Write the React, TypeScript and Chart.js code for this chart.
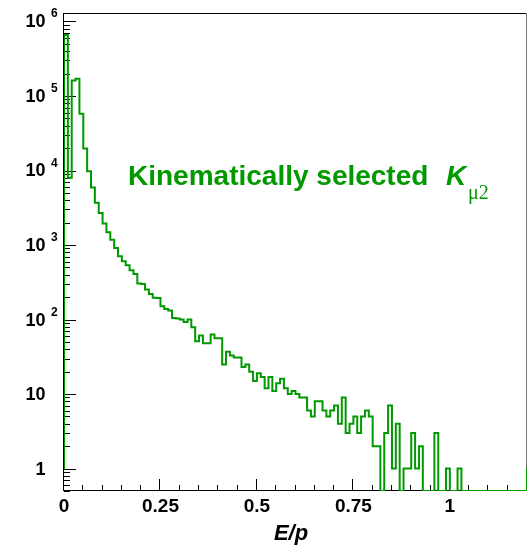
import React, { useEffect, useRef } from 'react';
import { Chart, registerables } from 'chart.js';

Chart.register(...registerables);

// ---- data ----
const X_MIN = 0;
const X_MAX = 1.2;
const BIN_WIDTH = 0.01;
const Y_MIN = 0.5;
const Y_MAX = 1.3e6;

// counts per bin of width 0.01, starting at E/p = 0
const COUNTS_0_19 = [660000, 8000, 162000, 170000, 58000, 19800, 9800, 5900, 3700, 2700, 1940, 1490, 1180, 910, 705, 606, 536, 459, 410, 304];
const COUNTS_20_39 = [300, 253, 221, 196, 194, 151, 139, 132, 105, 103, 100, 93, 100, 79, 51, 61, 48, 48, 63, 56];
const COUNTS_40_59 = [56, 25, 37, 33, 31, 31, 23, 25, 20, 15, 19, 17, 12, 17, 11, 14, 16, 12, 10, 11];
const COUNTS_60_79 = [10, 9, 9, 6, 5, 8, 8, 6, 5, 6, 7, 4, 9, 3, 4, 5, 3, 5, 6, 5];
const COUNTS_80_99 = [2, 2, 0, 3, 7, 1, 4, 0, 1, 1, 3, 1, 2, 0, 0, 0, 3, 0, 0, 1];
const COUNTS_100_119 = [0, 0, 1, 0, 0, 0, 0, 0, 0, 0, 0, 0, 0, 0, 0, 0, 0, 0, 0, 0];
const UNDERFLOW = 1;
const OVERFLOW = 1;

const X_TICK_VALUES = [0, 0.25, 0.5, 0.75, 1];
const X_TICK_LABELS = ['0', '0.25', '0.5', '0.75', '1'];
const X_MINOR_STEP = 0.05;
const Y_DECADES = [0, 1, 2, 3, 4, 5, 6];
const Y_MINOR_MULTIPLIERS = [2, 3, 4, 5, 6, 7, 8, 9];

const ANNOTATION = 'Kinematically selected';
const ANNOTATION_PARTICLE = 'K';
const ANNOTATION_SUB = 'μ2';
const X_TITLE = 'E/p';
const GREEN = 'rgb(0,153,0)';

const COUNTS = [
  ...COUNTS_0_19,
  ...COUNTS_20_39,
  ...COUNTS_40_59,
  ...COUNTS_60_79,
  ...COUNTS_80_99,
  ...COUNTS_100_119,
];

const SANS = '"Liberation Sans", Arial, Helvetica, sans-serif';
const SERIF = '"Liberation Serif", "Times New Roman", serif';

const rootStyle = {
  id: 'rootStyle',
  beforeDatasetsDraw(chart: any) {
    const { ctx, chartArea: a, scales } = chart;
    const xs = scales.x;
    const ys = scales.y;
    ctx.save();
    ctx.strokeStyle = '#000';
    ctx.lineWidth = 1;
    // frame
    ctx.beginPath();
    ctx.moveTo(Math.round(a.left) - 0.5, Math.round(a.top) + 0.5);
    ctx.lineTo(Math.round(a.right) - 0.5, Math.round(a.top) + 0.5);
    ctx.moveTo(Math.round(a.left) - 0.5, Math.round(a.top));
    ctx.lineTo(Math.round(a.left) - 0.5, Math.round(a.bottom));
    ctx.moveTo(Math.round(a.left) - 1, Math.round(a.bottom) - 0.5);
    ctx.lineTo(Math.round(a.right), Math.round(a.bottom) - 0.5);
    ctx.stroke();
    ctx.strokeStyle = '#777';
    ctx.beginPath();
    ctx.moveTo(Math.round(a.right) - 0.5, Math.round(a.top));
    ctx.lineTo(Math.round(a.right) - 0.5, Math.round(a.bottom));
    ctx.stroke();

    ctx.strokeStyle = '#000';
    // x ticks
    ctx.beginPath();
    const nMinor = Math.round((X_MAX - X_MIN) / X_MINOR_STEP);
    for (let i = 0; i <= nMinor; i++) {
      const v = X_MIN + i * X_MINOR_STEP;
      const isMajor = X_TICK_VALUES.some((t) => Math.abs(t - v) < 1e-6);
      const px = Math.round(xs.getPixelForValue(v)) - 0.5;
      if (px > a.right - 1) continue;
      const len = isMajor ? 12 : 6;
      ctx.moveTo(px, a.bottom);
      ctx.lineTo(px, a.bottom - len);
    }
    // y ticks
    for (let d = -1; d <= 6; d++) {
      const base = Math.pow(10, d);
      const major = ys.getPixelForValue(base);
      if (base >= Y_MIN && base <= Y_MAX) {
        const py = Math.round(major) + 0.5;
        ctx.moveTo(a.left, py);
        ctx.lineTo(a.left + 12, py);
      }
      for (const m of Y_MINOR_MULTIPLIERS) {
        const v = m * base;
        if (v < Y_MIN || v > Y_MAX) continue;
        const py = Math.round(ys.getPixelForValue(v)) + 0.5;
        ctx.moveTo(a.left, py);
        ctx.lineTo(a.left + 6, py);
      }
    }
    ctx.stroke();
    ctx.restore();
  },
  afterDraw(chart: any) {
    const { ctx, chartArea: a, scales } = chart;
    const ys = scales.y;
    ctx.save();
    ctx.fillStyle = '#000';
    // y labels
    for (const k of Y_DECADES) {
      const py = ys.getPixelForValue(Math.pow(10, k));
      ctx.font = `bold 18px ${SANS}`;
      ctx.textAlign = 'right';
      ctx.textBaseline = 'middle';
      ctx.fillText(k === 0 ? '1' : '10', 45.5, py + 1);
      if (k >= 2) {
        ctx.font = `bold 12px ${SANS}`;
        ctx.textAlign = 'left';
        ctx.textBaseline = 'alphabetic';
        ctx.fillText(String(k), 51, py - 4);
      }
    }
    // x title
    ctx.font = `italic bold 22px ${SANS}`;
    ctx.textAlign = 'center';
    ctx.textBaseline = 'alphabetic';
    ctx.fillText(X_TITLE, 291, 540);

    // annotation
    ctx.fillStyle = GREEN;
    ctx.textAlign = 'left';
    ctx.font = `bold 28px ${SANS}`;
    ctx.fillText(ANNOTATION, 128, 185);
    ctx.font = `italic bold 28px ${SANS}`;
    ctx.fillText(ANNOTATION_PARTICLE, 446, 185);
    ctx.font = `20px ${SERIF}`;
    ctx.fillText(ANNOTATION_SUB, 468, 199);
    ctx.restore();
  },
};

export default function App() {
  const canvasRef = useRef<HTMLCanvasElement | null>(null);

  useEffect(() => {
    if (!canvasRef.current) return;
    const points: { x: number; y: number }[] = [];
    points.push({ x: X_MIN - BIN_WIDTH, y: Math.max(UNDERFLOW, Y_MIN) });
    COUNTS.forEach((c, i) => {
      points.push({ x: X_MIN + i * BIN_WIDTH, y: Math.max(c, Y_MIN) });
    });
    points.push({ x: X_MAX, y: Math.max(OVERFLOW, Y_MIN) });
    points.push({ x: X_MAX + BIN_WIDTH, y: Math.max(OVERFLOW, Y_MIN) });

    const chart = new Chart(canvasRef.current, {
      type: 'line',
      data: {
        datasets: [
          {
            data: points,
            stepped: true,
            borderColor: GREEN,
            borderWidth: 2,
            pointRadius: 0,
            fill: false,
          },
        ],
      },
      options: {
        animation: false,
        responsive: false,
        devicePixelRatio: 1,
        layout: { padding: { top: 13, right: 5, left: 0, bottom: 0 } },
        plugins: { legend: { display: false }, tooltip: { enabled: false } },
        scales: {
          x: {
            type: 'linear',
            min: X_MIN,
            max: X_MAX,
            grid: { display: false, drawTicks: false },
            border: { display: false },
            afterBuildTicks: (s: any) => {
              s.ticks = X_TICK_VALUES.map((v) => ({ value: v }));
            },
            afterFit: (s: any) => {
              s.height = 57;
            },
            ticks: {
              autoSkip: false,
              maxRotation: 0,
              padding: 4,
              color: '#000',
              font: { family: SANS, weight: 'bold', size: 19 },
              callback: (_v: any, i: number) => X_TICK_LABELS[i],
            },
          },
          y: {
            type: 'logarithmic',
            min: Y_MIN,
            max: Y_MAX,
            grid: { display: false, drawTicks: false },
            border: { display: false },
            ticks: { display: false },
            afterFit: (s: any) => {
              s.width = 64;
            },
          },
        },
      },
      plugins: [rootStyle],
    } as any);
    return () => chart.destroy();
  }, []);

  return (
    <div style={{ position: 'absolute', left: 0, top: 0, width: 532, height: 548, background: '#fff' }}>
      <canvas ref={canvasRef} width={532} height={548} style={{ display: 'block' }} />
    </div>
  );
}
